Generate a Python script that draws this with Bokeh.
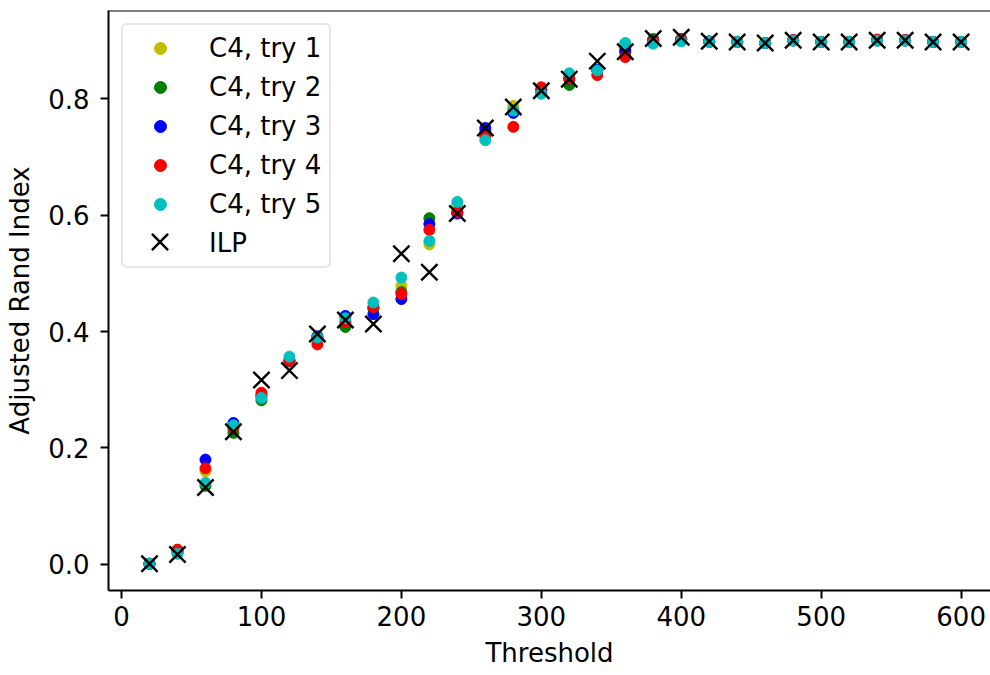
from bokeh.plotting import figure
from bokeh.models import Range1d, FixedTicker, NumeralTickFormatter, Span, Legend, LegendItem
from bokeh.embed import file_html
from bokeh.resources import INLINE

thresholds = [20, 40, 60, 80, 100, 120, 140, 160, 180, 200, 220, 240, 260, 280, 300,
              320, 340, 360, 380, 400, 420, 440, 460, 480, 500, 520, 540, 560, 580, 600]

try1 = [0.001, 0.022, 0.160, 0.232, 0.290, 0.345, 0.390, 0.412, 0.440, 0.479, 0.550, 0.618, 0.740, 0.788, 0.815,
        0.833, 0.850, 0.880, 0.900, 0.902, 0.898, 0.898, 0.896, 0.900, 0.898, 0.898, 0.900, 0.900, 0.898, 0.898]
try2 = [0.001, 0.025, 0.135, 0.226, 0.282, 0.350, 0.390, 0.408, 0.440, 0.468, 0.595, 0.605, 0.745, 0.780, 0.810,
        0.824, 0.850, 0.880, 0.903, 0.903, 0.898, 0.898, 0.896, 0.901, 0.898, 0.898, 0.901, 0.901, 0.898, 0.898]
try3 = [0.001, 0.020, 0.180, 0.243, 0.290, 0.350, 0.392, 0.427, 0.430, 0.456, 0.585, 0.603, 0.750, 0.776, 0.815,
        0.835, 0.850, 0.884, 0.900, 0.902, 0.899, 0.898, 0.896, 0.901, 0.898, 0.898, 0.901, 0.901, 0.898, 0.898]
try4 = [0.001, 0.025, 0.165, 0.235, 0.295, 0.350, 0.378, 0.417, 0.442, 0.465, 0.575, 0.605, 0.735, 0.752, 0.820,
        0.835, 0.841, 0.872, 0.900, 0.902, 0.898, 0.898, 0.896, 0.901, 0.898, 0.898, 0.902, 0.901, 0.898, 0.898]
try5 = [0.001, 0.018, 0.140, 0.239, 0.286, 0.357, 0.390, 0.423, 0.450, 0.493, 0.556, 0.623, 0.729, 0.780, 0.809,
        0.844, 0.849, 0.896, 0.895, 0.899, 0.898, 0.898, 0.896, 0.900, 0.898, 0.898, 0.900, 0.900, 0.898, 0.898]
ilp = [0.001, 0.017, 0.132, 0.228, 0.317, 0.333, 0.396, 0.420, 0.413, 0.534, 0.502, 0.603, 0.750, 0.786, 0.814,
       0.834, 0.865, 0.881, 0.904, 0.906, 0.899, 0.898, 0.896, 0.901, 0.898, 0.898, 0.901, 0.901, 0.898, 0.898]

series_labels = ["C4, try 1", "C4, try 2", "C4, try 3", "C4, try 4", "C4, try 5"]
series_colors = ["#bfbf00", "#008000", "#0000ff", "#ff0000", "#00bfbf"]
ilp_label = "ILP"
x_ticks = [0, 100, 200, 300, 400, 500, 600]
y_ticks = [0.0, 0.2, 0.4, 0.6, 0.8]

FONT = "DejaVu Sans"
FS = "26px"

p = figure(width=990, height=675, output_backend="svg", toolbar_location=None,
           x_range=Range1d(-9.3, 621), y_range=Range1d(-0.045, 0.952),
           min_border_left=108, min_border_right=0, min_border_top=10, min_border_bottom=85)
p.xgrid.visible = False
p.ygrid.visible = False
p.outline_line_color = None
p.background_fill_color = "white"

items = []
for ys, lab, col in zip([try1, try2, try3, try4, try5], series_labels, series_colors):
    r = p.scatter(thresholds, ys, size=11, fill_color=col, line_color=col)
    items.append(LegendItem(label=lab, renderers=[r]))
ilp_r = p.scatter(thresholds, ilp, marker="x", size=23, line_color="black", line_width=2.4)
# placeholder glyph for the main legend's ILP row (the visible X is drawn by the overlay legend)
ilp_ghost = p.scatter(thresholds, ilp, marker="x", size=23, line_color="black", line_alpha=0)
items.append(LegendItem(label=ilp_label, renderers=[ilp_ghost]))

p.add_layout(Span(location=0.952, dimension="width", line_color="black", line_width=2))

for ax in (p.xaxis[0], p.yaxis[0]):
    ax.axis_line_width = 2
    ax.axis_line_color = "black"
    ax.major_tick_line_width = 2
    ax.major_tick_out = 8
    ax.major_tick_in = 0
    ax.minor_tick_line_color = None
    ax.major_label_text_font = FONT
    ax.major_label_text_font_size = FS
    ax.major_label_text_color = "black"
    ax.axis_label_text_font = FONT
    ax.axis_label_text_font_size = FS
    ax.axis_label_text_font_style = "normal"
    ax.axis_label_text_color = "black"

p.xaxis.ticker = FixedTicker(ticks=x_ticks)
p.yaxis.ticker = FixedTicker(ticks=y_ticks)
p.yaxis.formatter = NumeralTickFormatter(format="0.0")
p.xaxis.axis_label = "Threshold"
p.yaxis.axis_label = "Adjusted Rand Index"
p.xaxis.major_label_standoff = 7
p.xaxis.axis_label_standoff = 9
p.yaxis.major_label_standoff = 11
p.yaxis.axis_label_standoff = 10

lg = Legend(items=items, location="top_left", margin=13, padding=8, spacing=9,
            glyph_width=58, glyph_height=30, label_height=30, label_standoff=20,
            label_text_font=FONT, label_text_font_size=FS, label_text_color="black",
            border_line_color="#cccccc", border_line_width=2, background_fill_alpha=0.8)
if "border_radius" in lg.properties():
    lg.border_radius = 6
p.add_layout(lg)

lg2 = Legend(items=[LegendItem(label=" ", renderers=[ilp_r])], location=(22.5, 320.5),
             margin=0, padding=0, glyph_width=57, glyph_height=57, label_standoff=0,
             label_text_font_size="1px", border_line_color=None, background_fill_alpha=0)
p.add_layout(lg2)

open("out.html", "w").write(file_html(p, INLINE))
